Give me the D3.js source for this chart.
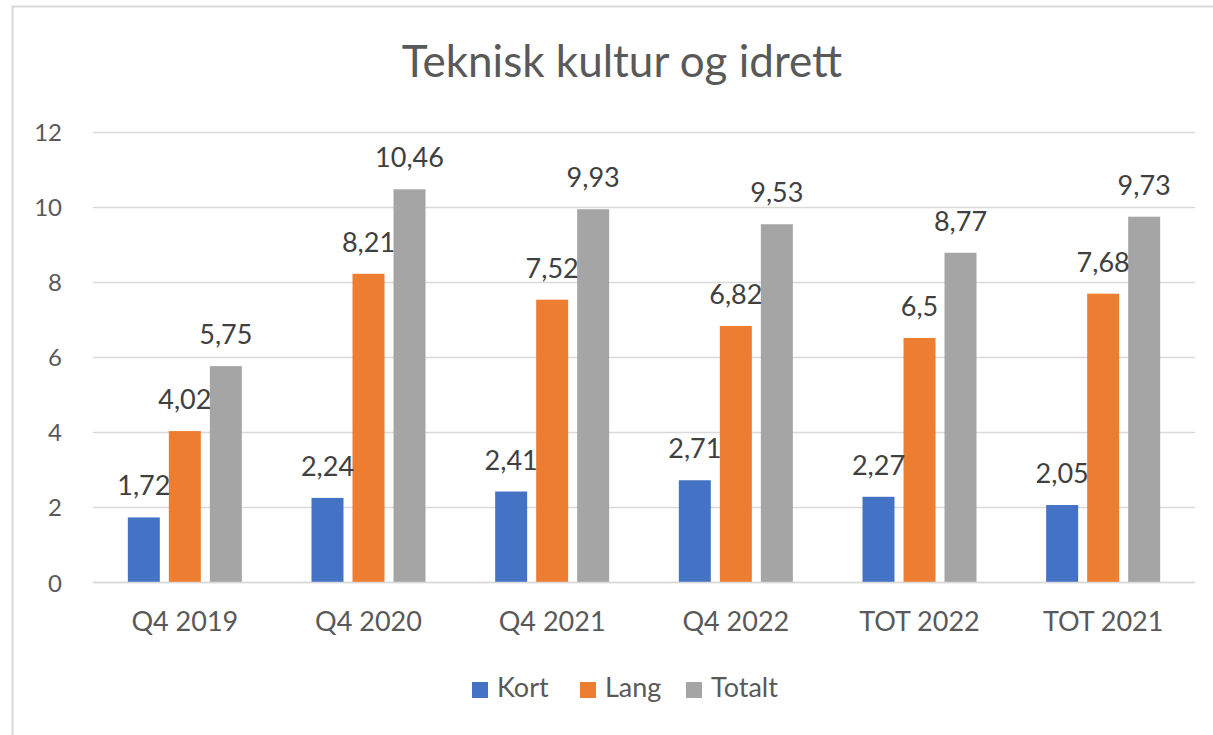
<!DOCTYPE html>
<html>
<head>
<meta charset="utf-8">
<script src="https://cdn.jsdelivr.net/npm/d3@7"></script>
<style>
  html, body { margin: 0; padding: 0; background: #fff; }
  svg { display: block; font-family: Lato, "Open Sans", sans-serif; }
</style>
</head>
<body>
<svg id="chart" width="1213" height="735"></svg>
<script>
const title = "Teknisk kultur og idrett";
const categories = ["Q4 2019", "Q4 2020", "Q4 2021", "Q4 2022", "TOT 2022", "TOT 2021"];
const seriesNames = ["Kort", "Lang", "Totalt"];
const kort   = [1.72, 2.24, 2.41, 2.71, 2.27, 2.05];
const lang   = [4.02, 8.21, 7.52, 6.82, 6.5, 7.68];
const totalt = [5.75, 10.46, 9.93, 9.53, 8.77, 9.73];
const yTicks = [0, 2, 4, 6, 8, 10, 12];
const colors = ["#4472C4", "#ED7D31", "#A5A5A5"];

const seriesValues = [kort, lang, totalt];
const data = categories.map((c, i) => ({
  cat: c,
  vals: seriesNames.map((s, j) => ({ s, v: seriesValues[j][i], color: colors[j] }))
}));

const svg = d3.select("#chart");
const textColor = "#595959";
const fmt = v => String(v).replace(".", ",");

// outer border
svg.append("rect")
  .attr("x", 12.5).attr("y", 6.5)
  .attr("width", 1240).attr("height", 760)
  .attr("fill", "none").attr("stroke", "#D9D9D9").attr("stroke-width", 2);

const plotLeft = 93, plotRight = 1195, plotTop = 131.5, plotBottom = 582;

const x = d3.scaleBand().domain(categories).range([plotLeft, plotRight]).padding(0);
const bw = x.bandwidth();
const groupW = 114;
const xi = d3.scaleBand().domain(seriesNames)
  .range([bw / 2 - groupW / 2, bw / 2 + groupW / 2])
  .paddingInner(0.22).paddingOuter(0);
const y = d3.scaleLinear().domain([0, 12]).range([plotBottom, plotTop]);

// gridlines
svg.append("g").selectAll("line").data(yTicks).join("line")
  .attr("x1", plotLeft).attr("x2", plotRight)
  .attr("y1", d => Math.round(y(d)) + 0.5).attr("y2", d => Math.round(y(d)) + 0.5)
  .attr("stroke", "#D9D9D9").attr("stroke-width", 1.5);

// y tick labels
svg.append("g").selectAll("text").data(yTicks).join("text")
  .attr("x", 62).attr("y", d => y(d))
  .attr("text-anchor", "end").attr("dominant-baseline", "central")
  .attr("fill", textColor).style("font-size", "24px")
  .text(d => d);

// bars
const groups = svg.append("g").selectAll("g").data(data).join("g")
  .attr("transform", d => `translate(${x(d.cat)},0)`);

groups.selectAll("rect").data(d => d.vals).join("rect")
  .attr("x", d => xi(d.s)).attr("width", xi.bandwidth())
  .attr("y", d => y(d.v)).attr("height", d => y(0) - y(d.v))
  .attr("fill", d => d.color);

groups.selectAll("text").data(d => d.vals).join("text")
  .attr("x", d => xi(d.s) + xi.bandwidth() / 2)
  .attr("y", d => y(d.v) - 22)
  .attr("text-anchor", "middle")
  .attr("fill", "#404040").style("font-size", "27px")
  .text(d => fmt(d.v));

// zero line on top
svg.append("line")
  .attr("x1", plotLeft).attr("x2", plotRight)
  .attr("y1", Math.round(y(0)) + 0.5).attr("y2", Math.round(y(0)) + 0.5)
  .attr("stroke", "#D9D9D9").attr("stroke-width", 1.5);

// category labels
svg.append("g").selectAll("text").data(categories).join("text")
  .attr("x", d => x(d) + bw / 2).attr("y", 631)
  .attr("text-anchor", "middle")
  .attr("fill", textColor).style("font-size", "27px")
  .text(d => d);

// title
svg.append("text")
  .attr("x", 622).attr("y", 77)
  .attr("text-anchor", "middle")
  .attr("fill", textColor).style("font-size", "44px")
  .text(title);

// legend
const legendX = [472, 580, 686];
const leg = svg.append("g").selectAll("g").data(seriesNames).join("g")
  .attr("transform", (d, i) => `translate(${legendX[i]},0)`);
leg.append("rect").attr("x", 0).attr("y", 682).attr("width", 16).attr("height", 16)
  .attr("fill", (d, i) => colors[i]);
leg.append("text").attr("x", 25).attr("y", 697)
  .attr("fill", textColor).style("font-size", "27px")
  .text(d => d);
</script>
</body>
</html>
